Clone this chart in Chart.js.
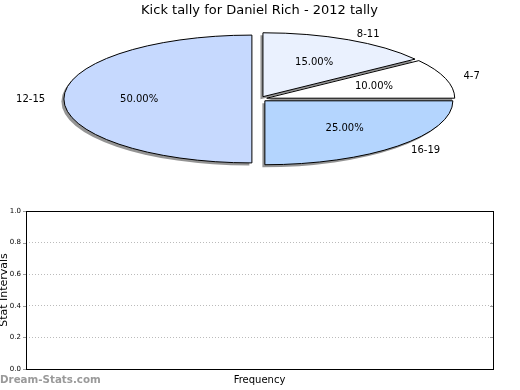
<!DOCTYPE html>
<html><head><meta charset="utf-8">
<script src="https://cdn.jsdelivr.net/npm/chart.js@4.4.1/dist/chart.umd.min.js"></script>
<style>
html,body{margin:0;padding:0;background:#fff;}
#wrap{position:relative;width:520px;height:390px;overflow:hidden;background:#fff;}
canvas{display:block;}
</style></head><body>
<div id="wrap">
<div style="position:absolute;left:0;top:0;width:520px;height:190px"><canvas id="pie" width="520" height="190"></canvas></div>
<div style="position:absolute;left:0;top:190px;width:520px;height:200px"><canvas id="bar" width="520" height="200"></canvas></div>
</div>
<script>
// ---- data ----
const categories = ['4-7', '8-11', '12-15', '16-19'];
const shares = [10, 15, 50, 25];
const sliceColors = ['#ffffff', '#eaf1fe', '#c6d9fe', '#b4d5fe'];
const yTickValues = [0.0, 0.2, 0.4, 0.6, 0.8, 1.0];
const titleText = 'Kick tally for Daniel Rich - 2012 tally';
const xTitle = 'Frequency';
const yTitle = 'Stat Intervals';
const watermark = 'Dream-Stats.com';

// ---- pie (elliptical, exploded) ----
const R = 188, K = 0.34, OFF = 7.6;
const FONT = 'DejaVu Sans';
const order = [3, 2, 1, 0]; // Chart.js goes clockwise from 3 o'clock; reverse to get counter-clockwise order
const total = shares.reduce((a, b) => a + b, 0);

const ellipsePlugin = {
  id: 'ellipse',
  afterDatasetsUpdate(chart) {
    chart.getDatasetMeta(0).data.forEach(el => {
      el.outerRadius = R;
      const proto = Object.getPrototypeOf(el);
      el.draw = function (ctx) {
        const mid = (this.startAngle + this.endAngle) / 2;
        ctx.save();
        ctx.translate(Math.cos(mid) * OFF, Math.sin(mid) * OFF);
        proto.draw.call(this, ctx);
        ctx.restore();
      };
    });
  },
  beforeDatasetsDraw(chart) {
    const ctx = chart.ctx;
    const el = chart.getDatasetMeta(0).data[0];
    const cx = el.x, cy = el.y;
    ctx.save();
    const base = ctx.getTransform();
    ctx.translate(cx, cy); ctx.scale(1, K); ctx.translate(-cx, -cy);
    ctx.shadowColor = 'rgba(0,0,0,0.42)';
    ctx.shadowOffsetX = -2.5; ctx.shadowOffsetY = 2.5; ctx.shadowBlur = 0;
    ctx.stroke = function (...a) {
      this.save();
      this.setTransform(base);
      this.shadowColor = 'rgba(0,0,0,0)';
      CanvasRenderingContext2D.prototype.stroke.apply(this, a);
      this.restore();
    };
  },
  afterDatasetsDraw(chart) {
    const ctx = chart.ctx;
    delete ctx.stroke;
    ctx.restore();
    const meta = chart.getDatasetMeta(0);
    ctx.save();
    ctx.fillStyle = '#000';
    ctx.font = '10px "' + FONT + '"';
    ctx.textBaseline = 'middle';
    meta.data.forEach((el, j) => {
      const i = order[j];
      const mid = (el.startAngle + el.endAngle) / 2;
      const c = Math.cos(mid), s = Math.sin(mid);
      const r1 = OFF + 0.6 * R;
      ctx.textAlign = 'center';
      ctx.fillText((shares[i] / total * 100).toFixed(2) + '%', el.x + c * r1, el.y + s * r1 * K);
      const r2 = OFF + 1.1 * R;
      ctx.textAlign = c < 0 ? 'right' : 'left';
      ctx.fillText(categories[i], el.x + c * r2, el.y + s * r2 * K);
    });
    ctx.restore();
  }
};

new Chart(document.getElementById('pie'), {
  type: 'pie',
  data: {
    labels: order.map(i => categories[i]),
    datasets: [{
      data: order.map(i => shares[i]),
      backgroundColor: order.map(i => sliceColors[i]),
      borderColor: '#000', borderWidth: 1,
      offset: 0, hoverOffset: 0, clip: false, radius: R
    }]
  },
  options: {
    responsive: false, animation: false, events: [],
    rotation: 90, radius: R,
    layout: { padding: { top: 0, left: 0, right: 1, bottom: 13.6 } },
    plugins: {
      legend: { display: false }, tooltip: { enabled: false },
      title: { display: true, text: titleText, color: '#000',
        font: { family: FONT, size: 13, weight: 'normal' }, padding: { top: 3, bottom: 3 } }
    }
  },
  plugins: [ellipsePlugin]
});

// ---- empty bar chart ----
const framePlugin = {
  id: 'frame',
  afterDraw(chart) {
    const ctx = chart.ctx, a = chart.chartArea, y = chart.scales.y;
    ctx.save();
    ctx.strokeStyle = '#999'; ctx.lineWidth = 1;
    yTickValues.forEach(v => {
      const py = Math.round(y.getPixelForValue(v)) + 0.5;
      ctx.beginPath();
      ctx.moveTo(a.left - 3, py); ctx.lineTo(a.left, py);
      ctx.moveTo(a.right - 3, py); ctx.lineTo(a.right, py);
      ctx.stroke();
    });
    ctx.strokeStyle = '#000';
    ctx.strokeRect(Math.round(a.left) + 0.5, Math.round(a.top) + 0.5, Math.round(a.right - a.left), Math.round(a.bottom - a.top));
    ctx.fillStyle = '#000';
    ctx.font = '10px "' + FONT + '"';
    ctx.textAlign = 'center'; ctx.textBaseline = 'middle';
    ctx.fillText(xTitle, (a.left + a.right) / 2, 190);
    ctx.save();
    ctx.translate(6.5, (a.top + a.bottom) / 2);
    ctx.rotate(-Math.PI / 2);
    ctx.font = '11px "' + FONT + '"';
    ctx.textBaseline = 'alphabetic';
    ctx.fillText(yTitle, 0, 0);
    ctx.restore();
    ctx.fillStyle = '#9a9a9a';
    ctx.font = 'bold 10.3px "' + FONT + '"';
    ctx.textAlign = 'left';
    ctx.fillText(watermark, 0, 190);
    ctx.restore();
  }
};

new Chart(document.getElementById('bar'), {
  type: 'bar',
  data: { labels: [], datasets: [{ data: [] }] },
  options: {
    responsive: false, animation: false, events: [],
    layout: { padding: { left: 0, top: 21, right: 27, bottom: 21 } },
    plugins: { legend: { display: false }, tooltip: { enabled: false } },
    scales: {
      x: { display: false },
      y: {
        min: 0, max: 1,
        afterBuildTicks(s) { s.ticks = yTickValues.map(v => ({ value: v })); },
        afterFit(s) { s.width = 26; },
        ticks: { callback: v => Number(v).toFixed(1), font: { family: FONT, size: 7 }, color: '#000', padding: 5 },
        grid: { drawTicks: false, lineWidth: 1,
          color: c => (c.tick && c.tick.value > 0.01 && c.tick.value < 0.99) ? '#bbbbbb' : 'rgba(0,0,0,0)' },
        border: { display: false, dash: [1, 2] }
      }
    }
  },
  plugins: [framePlugin]
});
</script>
</body></html>
